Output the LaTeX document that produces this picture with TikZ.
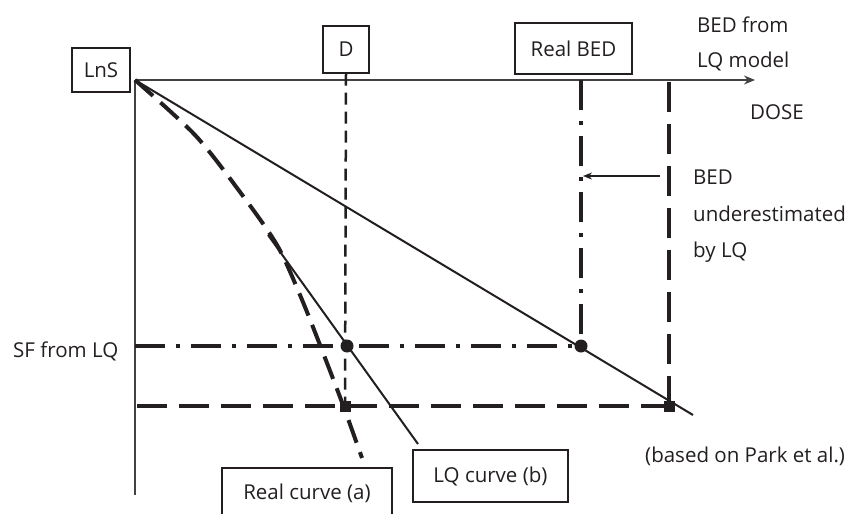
\documentclass[tikz,border=0pt]{standalone}
\usepackage{fontspec}
\setmainfont{Open Sans}
\usetikzlibrary{arrows.meta}
\definecolor{ink}{HTML}{231F20}
\tikzset{
  lbl/.style={font=\fontsize{20.5}{24}\selectfont, text=ink, inner sep=0pt},
  tagbox/.style={draw=ink, line width=1.2pt, font=\fontsize{20.5}{24}\selectfont, text=ink, inner sep=0pt},
  axis/.style={draw=ink!85, line width=1.5pt},
  mainline/.style={draw=ink, line width=2pt},
  dline/.style={draw=ink, line width=2.5pt, dash pattern=on 12pt off 7pt},
  dashdotline/.style={draw=ink, line width=3.5pt, dash pattern=on 30pt off 11pt on 4pt off 11pt},
  longdash/.style={draw=ink, line width=3.5pt, dash pattern=on 30pt off 12pt},
  curvedash/.style={draw=ink, line width=4pt, dash pattern=on 24pt off 10pt},
  sqmark/.style={fill=ink, minimum size=11pt, inner sep=0pt},
}
\begin{document}
\begin{tikzpicture}[x=1pt,y=-1pt]
  \useasboundingbox (0,0) rectangle (854,514);
  \clip (0,0) rectangle (854,514);

  % boxes
  \node[tagbox, minimum width=58, minimum height=44] (lns) at (101,70) {LnS};
  \node[tagbox, minimum width=46, minimum height=47] (dbox) at (346,49.5) {D};
  \node[tagbox, minimum width=117, minimum height=51] (bedbox) at (573.5,48.5) {Real BED};
  \node[tagbox, minimum width=170, minimum height=50] (realbox) at (307,493) {Real curve (a)};
  \node[tagbox, minimum width=155, minimum height=52] (lqbox) at (490.5,476) {LQ curve (b)};

  \coordinate (o) at (135,80);
  \coordinate (xend) at (755,80);
  \coordinate (yend) at (135,495);
  \coordinate (lend) at (693,415);
  \coordinate (bedtop) at (581,80);
  \coordinate (bedpt) at (581,346);
  \coordinate (dpt) at (347,346);
  \coordinate (dsq) at (345,406);
  \coordinate (esttop) at (669,82);
  \coordinate (esq) at (669,406);
  \coordinate (lqa) at (268,235);
  \coordinate (lqb) at (418,444);
  \coordinate (arrfrom) at (660,176);
  \coordinate (arrto) at (583,176);

  % axes
  \draw[axis] (o) -- (yend);
  \draw[axis, -{Stealth[length=11pt,width=9pt]}] (o) -- (xend);

  % lines
  \draw[mainline] (o) -- (lend);
  \draw[mainline] (lqa) -- (lqb);
  \draw[curvedash] plot[smooth] coordinates {(135,80) (195,135) (240,192) (277,245) (300,295) (320,345) (343,405) (362,458)};
  \draw[dline] (dbox.south) -- (dsq);
  \draw[dashdotline] (bedtop) -- (bedpt);
  \draw[dashdotline] (o |- bedpt) -- (bedpt);
  \draw[longdash] (esttop) -- (esq);
  \draw[longdash] (137,406) -- (esq);
  \draw[ink, line width=1.5pt, -{Stealth[length=9pt,width=7pt]}] (arrfrom) -- (arrto);

  % marks
  \fill[ink] (dpt) circle (6.5);
  \fill[ink] (bedpt) circle (6.5);
  \node[sqmark] (sqd) at (dsq) {};
  \node[sqmark] (sqe) at (esq) {};

  % labels
  \node[lbl, anchor=base west] (bedfrom) at (697,32) {BED from};
  \node[lbl, anchor=base west] (lqmodel) at (697,67) {LQ model};
  \node[lbl, anchor=base west] (dose) at (750,119) {DOSE};
  \node[lbl, anchor=base west] (under1) at (693,184) {BED};
  \node[lbl, anchor=base west] (under2) at (693,221) {underestimated};
  \node[lbl, anchor=base west] (under3) at (693,257) {by LQ};
  \node[lbl, anchor=base west] (sflq) at (13,357) {SF from LQ};
  \node[lbl, anchor=base west] (park) at (645,462) {(based on Park et al.)};
\end{tikzpicture}
\end{document}
